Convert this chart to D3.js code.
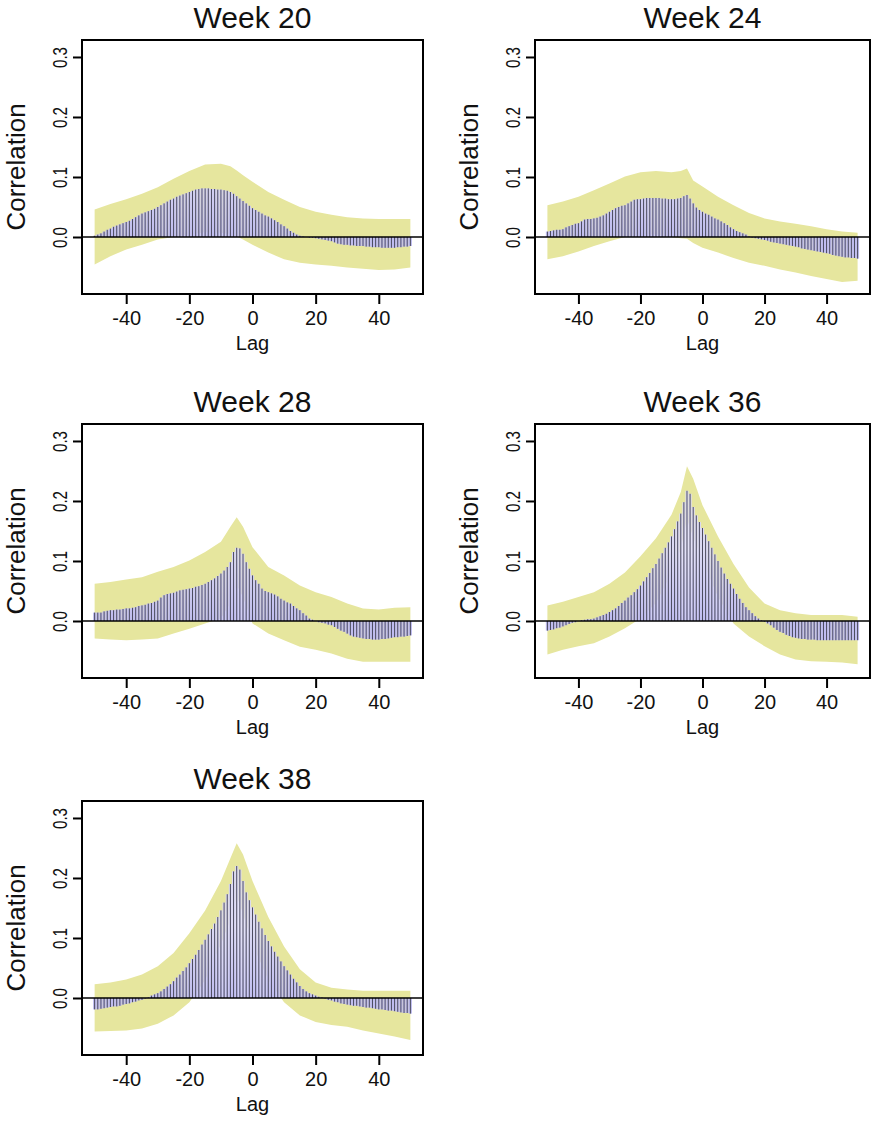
<!DOCTYPE html>
<html>
<head>
<meta charset="utf-8">
<script src="https://cdn.jsdelivr.net/npm/d3@7"></script>
<style>
  body { margin: 0; background: #fff; }
  text { font-family: "Liberation Sans", Arial, sans-serif; fill: #111; }
</style>
</head>
<body>
<svg id="chart" width="873" height="1121"></svg>
<script>
// lags of the cross-correlation, -50..50
var lags = d3.range(-50, 51);
// lags at which the band edges were read
var bandLags = [-50,-45,-40,-35,-30,-25,-20,-15,-10,-7,-5,-3,0,5,10,15,20,25,30,35,40,45,50];
var yTicks = [0, 0.1, 0.2, 0.3];
var xTicks = [-40, -20, 0, 20, 40];

var titles = ["Week 20", "Week 24", "Week 28", "Week 36", "Week 38"];

var corr20 = [0.002,0.004,0.006,0.009,0.012,0.014,0.017,0.019,0.021,0.023,0.025,0.027,0.030,0.033,0.036,0.039,0.041,0.043,0.045,0.047,
  0.050,0.053,0.056,0.059,0.062,0.064,0.067,0.069,0.071,0.073,0.075,0.077,0.079,0.080,0.081,0.081,0.081,0.080,0.080,0.079,
  0.079,0.078,0.077,0.075,0.072,0.068,0.064,0.060,0.056,0.052,0.048,0.045,0.042,0.039,0.036,0.034,0.031,0.028,0.025,0.021,
  0.018,0.014,0.010,0.007,0.004,0.002,0.001,0.000,-0.001,-0.001,-0.002,-0.003,-0.004,-0.005,-0.006,-0.007,-0.009,-0.011,-0.012,-0.013,
  -0.013,-0.014,-0.014,-0.015,-0.015,-0.015,-0.016,-0.016,-0.017,-0.017,-0.017,-0.018,-0.018,-0.018,-0.018,-0.018,-0.017,-0.017,-0.016,-0.016,-0.015];
var upper20 = [0.046,0.055,0.063,0.072,0.083,0.097,0.110,0.121,0.122,0.118,0.111,0.103,0.092,0.075,0.062,0.050,0.042,0.037,0.033,0.031,0.030,0.030,0.030];
var lower20 = [-0.046,-0.032,-0.021,-0.013,-0.004,0.000,0.004,0.008,0.007,0.005,0.001,-0.004,-0.013,-0.026,-0.037,-0.043,-0.046,-0.048,-0.051,-0.053,-0.055,-0.054,-0.051];

var corr24 = [0.009,0.010,0.011,0.012,0.012,0.013,0.016,0.018,0.020,0.022,0.023,0.026,0.029,0.030,0.030,0.031,0.032,0.034,0.036,0.039,
  0.042,0.045,0.048,0.050,0.052,0.053,0.056,0.059,0.062,0.063,0.063,0.064,0.065,0.065,0.065,0.065,0.065,0.064,0.064,0.063,
  0.063,0.063,0.064,0.065,0.068,0.070,0.064,0.056,0.049,0.045,0.042,0.039,0.037,0.034,0.031,0.029,0.026,0.023,0.020,0.016,
  0.013,0.010,0.008,0.006,0.004,0.001,-0.001,-0.002,-0.003,-0.004,-0.005,-0.006,-0.008,-0.009,-0.010,-0.011,-0.012,-0.013,-0.014,-0.015,
  -0.016,-0.017,-0.019,-0.020,-0.021,-0.022,-0.023,-0.024,-0.025,-0.026,-0.027,-0.028,-0.030,-0.031,-0.032,-0.033,-0.034,-0.034,-0.035,-0.035,-0.036];
var upper24 = [0.053,0.059,0.067,0.078,0.089,0.101,0.108,0.110,0.108,0.110,0.114,0.094,0.084,0.067,0.053,0.040,0.031,0.026,0.022,0.018,0.013,0.009,0.007];
var lower24 = [-0.037,-0.032,-0.024,-0.015,-0.007,0.000,0.004,0.004,0.000,-0.002,-0.003,-0.010,-0.018,-0.026,-0.035,-0.043,-0.048,-0.054,-0.059,-0.065,-0.070,-0.075,-0.073];

var corr28 = [0.014,0.014,0.014,0.016,0.017,0.018,0.018,0.019,0.019,0.020,0.021,0.021,0.022,0.023,0.025,0.026,0.027,0.029,0.030,0.032,
  0.034,0.039,0.043,0.045,0.046,0.047,0.049,0.051,0.052,0.053,0.054,0.055,0.057,0.058,0.060,0.062,0.065,0.068,0.071,0.075,
  0.079,0.084,0.090,0.098,0.115,0.122,0.121,0.112,0.098,0.087,0.076,0.068,0.062,0.054,0.050,0.048,0.046,0.044,0.041,0.037,
  0.034,0.031,0.029,0.025,0.021,0.018,0.013,0.009,0.004,0.002,0.000,-0.002,-0.003,-0.004,-0.006,-0.007,-0.010,-0.013,-0.016,-0.018,
  -0.021,-0.024,-0.026,-0.027,-0.028,-0.029,-0.030,-0.030,-0.031,-0.031,-0.031,-0.030,-0.030,-0.029,-0.028,-0.027,-0.027,-0.026,-0.026,-0.025,-0.024];
var upper28 = [0.062,0.065,0.069,0.073,0.082,0.090,0.101,0.115,0.132,0.157,0.173,0.157,0.123,0.090,0.076,0.059,0.048,0.040,0.029,0.021,0.019,0.022,0.023];
var lower28 = [-0.029,-0.031,-0.032,-0.031,-0.029,-0.021,-0.013,-0.004,0.004,0.030,0.060,0.040,-0.004,-0.021,-0.032,-0.043,-0.048,-0.054,-0.063,-0.068,-0.068,-0.068,-0.068];

var corr36 = [-0.016,-0.015,-0.014,-0.012,-0.011,-0.009,-0.007,-0.005,-0.003,-0.002,0.000,0.001,0.002,0.003,0.003,0.004,0.006,0.008,0.010,0.012,
  0.015,0.018,0.021,0.025,0.030,0.034,0.039,0.043,0.048,0.053,0.059,0.066,0.073,0.080,0.088,0.095,0.104,0.113,0.122,0.131,
  0.141,0.153,0.166,0.179,0.198,0.217,0.212,0.190,0.176,0.165,0.155,0.144,0.133,0.122,0.111,0.100,0.089,0.079,0.070,0.062,
  0.054,0.045,0.037,0.030,0.023,0.018,0.013,0.008,0.004,0.001,-0.001,-0.004,-0.007,-0.011,-0.015,-0.018,-0.020,-0.023,-0.025,-0.027,
  -0.028,-0.029,-0.030,-0.030,-0.031,-0.031,-0.031,-0.032,-0.032,-0.032,-0.032,-0.032,-0.032,-0.032,-0.032,-0.032,-0.032,-0.032,-0.032,-0.032,-0.032];
var upper36 = [0.026,0.032,0.040,0.048,0.062,0.081,0.108,0.138,0.177,0.215,0.258,0.237,0.193,0.141,0.095,0.056,0.029,0.018,0.013,0.010,0.010,0.010,0.007];
var lower36 = [-0.056,-0.048,-0.042,-0.037,-0.026,-0.012,0.004,0.030,0.080,0.120,0.170,0.140,0.100,0.040,-0.004,-0.026,-0.042,-0.056,-0.064,-0.067,-0.068,-0.069,-0.072];

var corr38 = [-0.019,-0.019,-0.018,-0.017,-0.016,-0.015,-0.014,-0.014,-0.013,-0.011,-0.010,-0.009,-0.007,-0.006,-0.004,-0.003,-0.001,0.001,0.004,0.006,
  0.008,0.011,0.015,0.019,0.023,0.028,0.034,0.039,0.045,0.051,0.058,0.065,0.072,0.080,0.089,0.097,0.106,0.115,0.124,0.135,
  0.146,0.159,0.173,0.190,0.211,0.220,0.214,0.195,0.176,0.163,0.151,0.139,0.127,0.116,0.105,0.095,0.086,0.077,0.069,0.061,
  0.053,0.046,0.039,0.032,0.026,0.020,0.015,0.011,0.008,0.006,0.004,0.002,0.001,-0.001,-0.003,-0.004,-0.006,-0.007,-0.009,-0.010,
  -0.011,-0.012,-0.013,-0.013,-0.014,-0.015,-0.016,-0.016,-0.017,-0.018,-0.019,-0.019,-0.020,-0.021,-0.021,-0.022,-0.023,-0.024,-0.025,-0.025,-0.026];
var upper38 = [0.023,0.026,0.031,0.039,0.053,0.075,0.108,0.146,0.195,0.233,0.258,0.239,0.195,0.135,0.086,0.048,0.026,0.017,0.014,0.012,0.012,0.012,0.012];
var lower38 = [-0.056,-0.055,-0.054,-0.051,-0.043,-0.029,-0.007,0.030,0.090,0.130,0.170,0.140,0.090,0.030,-0.007,-0.029,-0.040,-0.045,-0.048,-0.054,-0.059,-0.064,-0.070];

var panels = [
  {title: titles[0], corr: corr20, upper: upper20, lower: lower20, col: 0, row: 0},
  {title: titles[1], corr: corr24, upper: upper24, lower: lower24, col: 1, row: 0},
  {title: titles[2], corr: corr28, upper: upper28, lower: lower28, col: 0, row: 1},
  {title: titles[3], corr: corr36, upper: upper36, lower: lower36, col: 1, row: 1},
  {title: titles[4], corr: corr38, upper: upper38, lower: lower38, col: 0, row: 2}
];

var colX = [82, 535],        // left edge of each plot box
    colW = [341, 335],       // right column is a touch narrower
    rowY = [40, 424, 801],   // top edge of each plot box
    ph = 254;

var svg = d3.select("#chart");
svg.append("rect").attr("width", 873).attr("height", 1121).attr("fill", "#fff");

var y = d3.scaleLinear().domain([-0.095, 0.3283]).range([ph, 0]);
var fmtX = function(d){ return String(d); };   // plain hyphen like R
var fmtY = d3.format(".1f");

// bar fill: bluer near the zero line, paler further out
var defs = svg.append("defs");
var grad = defs.append("linearGradient").attr("id", "barfill")
    .attr("gradientUnits", "userSpaceOnUse")
    .attr("x1", 0).attr("x2", 0).attr("y1", y(0.12)).attr("y2", y(0));
grad.append("stop").attr("offset", 0).attr("stop-color", "#dcdaf5");
grad.append("stop").attr("offset", 1).attr("stop-color", "#bfbcf0");

panels.forEach(function(p){
    var pw = colW[p.col];
    var x = d3.scaleLinear().domain([-54, 54]).range([0, pw]);
    var step = x(1) - x(0);

    var g = svg.append("g")
        .attr("transform", "translate(" + colX[p.col] + "," + rowY[p.row] + ")");

    // confidence band
    var band = bandLags.map(function(l, i){ return {lag: l, lo: p.lower[i], hi: p.upper[i]}; });
    g.append("path")
        .datum(band)
        .attr("fill", "#e6e69e")
        .attr("d", d3.area()
            .x(function(d){ return x(d.lag); })
            .y0(function(d){ return y(d.lo); })
            .y1(function(d){ return y(d.hi); }));

    // correlation bars: light fill with a dark line per lag
    var bars = lags.map(function(l, i){ return {lag: l, v: p.corr[i]}; });
    g.selectAll("rect.bar").data(bars).enter().append("rect")
        .attr("class", "bar")
        .attr("x", function(d){ return x(d.lag) - step / 2; })
        .attr("width", step)
        .attr("y", function(d){ return y(Math.max(0, d.v)); })
        .attr("height", function(d){ return Math.abs(y(d.v) - y(0)); })
        .attr("fill", "url(#barfill)");
    g.selectAll("line.bar").data(bars).enter().append("line")
        .attr("class", "bar")
        .attr("x1", function(d){ return x(d.lag); })
        .attr("x2", function(d){ return x(d.lag); })
        .attr("y1", y(0))
        .attr("y2", function(d){ return y(d.v); })
        .attr("stroke", "#4c4c5e")
        .attr("stroke-width", 1);

    // zero line
    g.append("line")
        .attr("x1", 0).attr("x2", pw)
        .attr("y1", y(0)).attr("y2", y(0))
        .attr("stroke", "#000").attr("stroke-width", 1.3);

    // box
    g.append("rect")
        .attr("width", pw).attr("height", ph)
        .attr("fill", "none").attr("stroke", "#000").attr("stroke-width", 2);

    // x axis
    var xa = g.append("g").attr("transform", "translate(0," + ph + ")")
        .call(d3.axisBottom(x).tickValues(xTicks).tickSize(10).tickPadding(7).tickFormat(fmtX));
    xa.select(".domain").remove();
    xa.selectAll("line").attr("stroke", "#000").attr("stroke-width", 2);
    xa.selectAll("text").attr("font-size", 20).attr("fill", "#111")
        .style("font-family", "Liberation Sans, Arial, sans-serif");

    // y axis, labels turned and squeezed along their length
    var ya = g.append("g")
        .call(d3.axisLeft(y).tickValues(yTicks).tickSize(9).tickFormat(fmtY));
    ya.select(".domain").remove();
    ya.selectAll("line").attr("stroke", "#000").attr("stroke-width", 2);
    ya.selectAll("text").remove();
    ya.selectAll(".tick").append("text")
        .attr("transform", "translate(-15,0) rotate(-90) scale(0.72,1)")
        .attr("text-anchor", "middle")
        .attr("font-size", 21)
        .attr("fill", "#111")
        .style("font-family", "Liberation Sans, Arial, sans-serif")
        .text(function(d){ return fmtY(d); });

    // labels
    g.append("text")
        .attr("x", x(0)).attr("y", -12)
        .attr("text-anchor", "middle")
        .attr("font-size", 30)
        .text(p.title);
    g.append("text")
        .attr("x", x(0)).attr("y", ph + 56)
        .attr("text-anchor", "middle")
        .attr("font-size", 20)
        .text("Lag");
    g.append("text")
        .attr("transform", "translate(-57," + (ph / 2) + ") rotate(-90)")
        .attr("text-anchor", "middle")
        .attr("font-size", 26)
        .text("Correlation");
});
</script>
</body>
</html>
